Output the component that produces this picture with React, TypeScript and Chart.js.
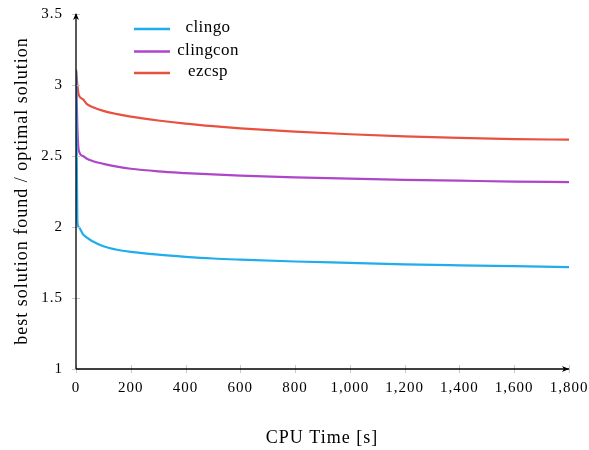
import React, { useEffect, useRef } from "react";
import { Chart, registerables } from "chart.js";

Chart.register(...registerables);

const seriesNames = ["clingo", "clingcon", "ezcsp"];
const seriesColors = ["#1fadec", "#ad46c9", "#e8503f"];

const timePoints = [0, 5, 10, 25, 40, 60, 100, 150, 200, 300, 400, 500, 600, 800, 1000, 1200, 1400, 1600, 1800];
const clingoValues = [3.1, 2.04, 2.0, 1.95, 1.925, 1.9, 1.865, 1.84, 1.825, 1.805, 1.79, 1.778, 1.77, 1.757, 1.747, 1.737, 1.73, 1.724, 1.718];
const clingconValues = [3.1, 2.7, 2.54, 2.5, 2.48, 2.465, 2.445, 2.425, 2.41, 2.392, 2.38, 2.37, 2.362, 2.35, 2.34, 2.332, 2.326, 2.32, 2.316];
const ezcspValues = [3.11, 3.0, 2.93, 2.9, 2.865, 2.845, 2.818, 2.795, 2.777, 2.75, 2.728, 2.71, 2.695, 2.671, 2.653, 2.638, 2.627, 2.619, 2.615];

const xTicks = [0, 200, 400, 600, 800, 1000, 1200, 1400, 1600, 1800];
const yTicks = [1, 1.5, 2, 2.5, 3, 3.5];

const xTitle = "CPU Time [s]";
const yTitle = "best solution found / optimal solution";

const FONT = "'Liberation Serif', 'DejaVu Serif', serif";

export default function App() {
  const ref = useRef<HTMLCanvasElement | null>(null);

  useEffect(() => {
    document.body.style.margin = "0";
    const canvas = ref.current!;
    const valuesList = [clingoValues, clingconValues, ezcspValues];

    const decor = {
      id: "decor",
      beforeDraw(chart: any) {
        chart.ctx.letterSpacing = "1px";
      },
      afterDraw(chart: any) {
        const ctx = chart.ctx;
        const xs = chart.scales.x;
        const ys = chart.scales.y;
        const ca = chart.chartArea;
        ctx.save();
        // tick marks
        ctx.strokeStyle = "#c8c8c8";
        ctx.lineWidth = 1;
        xTicks.forEach((t) => {
          const px = Math.round(xs.getPixelForValue(t)) + 0.5;
          ctx.beginPath();
          ctx.moveTo(px, ca.bottom - 4);
          ctx.lineTo(px, ca.bottom + 4);
          ctx.stroke();
        });
        yTicks.forEach((t) => {
          const py = Math.round(ys.getPixelForValue(t)) + 0.5;
          ctx.beginPath();
          ctx.moveTo(ca.left - 4, py);
          ctx.lineTo(ca.left + 4, py);
          ctx.stroke();
        });
        // axes
        ctx.strokeStyle = "#000";
        ctx.lineWidth = 1.3;
        ctx.beginPath();
        ctx.moveTo(ca.left, ca.bottom);
        ctx.lineTo(ca.left, ca.top);
        ctx.moveTo(ca.left, ca.bottom);
        ctx.lineTo(ca.right, ca.bottom);
        ctx.stroke();
        ctx.fillStyle = "#000";
        ctx.beginPath();
        ctx.moveTo(ca.left, ca.top - 1);
        ctx.lineTo(ca.left - 3, ca.top + 6);
        ctx.lineTo(ca.left, ca.top + 4);
        ctx.lineTo(ca.left + 3, ca.top + 6);
        ctx.closePath();
        ctx.fill();
        ctx.beginPath();
        ctx.moveTo(ca.right, ca.bottom);
        ctx.lineTo(ca.right - 7, ca.bottom - 3);
        ctx.lineTo(ca.right - 5, ca.bottom);
        ctx.lineTo(ca.right - 7, ca.bottom + 3);
        ctx.closePath();
        ctx.fill();
        // axis titles
        ctx.font = `18px ${FONT}`;
        ctx.letterSpacing = "1px";
        ctx.textAlign = "center";
        ctx.textBaseline = "middle";
        ctx.fillText(xTitle, 322, 438);
        ctx.save();
        ctx.translate(22, 191);
        ctx.rotate(-Math.PI / 2);
        ctx.fillText(yTitle, 0, 0);
        ctx.restore();
        // legend
        ctx.font = `17px ${FONT}`;
        ctx.letterSpacing = "0.4px";
        const legendY = [29, 51.5, 73];
        chart.data.datasets.forEach((ds: any, i: number) => {
          const y = legendY[i];
          ctx.strokeStyle = ds.borderColor;
          ctx.lineWidth = 2.7;
          ctx.beginPath();
          ctx.moveTo(134, y);
          ctx.lineTo(170, y);
          ctx.stroke();
          ctx.fillStyle = "#000";
          ctx.textAlign = "center";
          ctx.fillText(ds.label, 208, y - 1);
        });
        ctx.restore();
        ctx.letterSpacing = "0px";
      },
    };

    const chart = new Chart(canvas, {
      type: "line",
      data: {
        labels: timePoints,
        datasets: seriesNames.map((name, i) => ({
          label: name,
          data: timePoints.map((t, j) => ({ x: t, y: valuesList[i][j] })),
          borderColor: seriesColors[i],
          backgroundColor: seriesColors[i],
          borderWidth: 2.2,
          pointRadius: 0,
          cubicInterpolationMode: "monotone" as const,
          fill: false,
        })),
      },
      options: {
        responsive: false,
        animation: false,
        layout: { padding: { top: 14, right: 20, left: 0, bottom: 0 } },
        plugins: { legend: { display: false }, tooltip: { enabled: false } },
        scales: {
          x: {
            type: "linear",
            min: 0,
            max: 1800,
            afterBuildTicks: (s: any) => {
              s.ticks = xTicks.map((v) => ({ value: v }));
            },
            afterFit: (s: any) => {
              s.height = 81;
            },
            grid: { display: false },
            border: { display: false },
            ticks: {
              color: "#000",
              font: { family: FONT, size: 15 },
              padding: 2,
              maxRotation: 0,
              autoSkip: false,
              callback: (v: any) => Number(v).toLocaleString("en-US"),
            },
          },
          y: {
            type: "linear",
            min: 1,
            max: 3.5,
            afterBuildTicks: (s: any) => {
              s.ticks = yTicks.map((v) => ({ value: v }));
            },
            afterFit: (s: any) => {
              s.width = 76;
            },
            grid: { display: false },
            border: { display: false },
            ticks: {
              color: "#000",
              font: { family: FONT, size: 15 },
              padding: 5,
              autoSkip: false,
              callback: (v: any) => String(v),
            },
          },
        },
      },
      plugins: [decor],
    } as any);

    return () => chart.destroy();
  }, []);

  return <canvas ref={ref} width={589} height={450} style={{ display: "block" }} />;
}
